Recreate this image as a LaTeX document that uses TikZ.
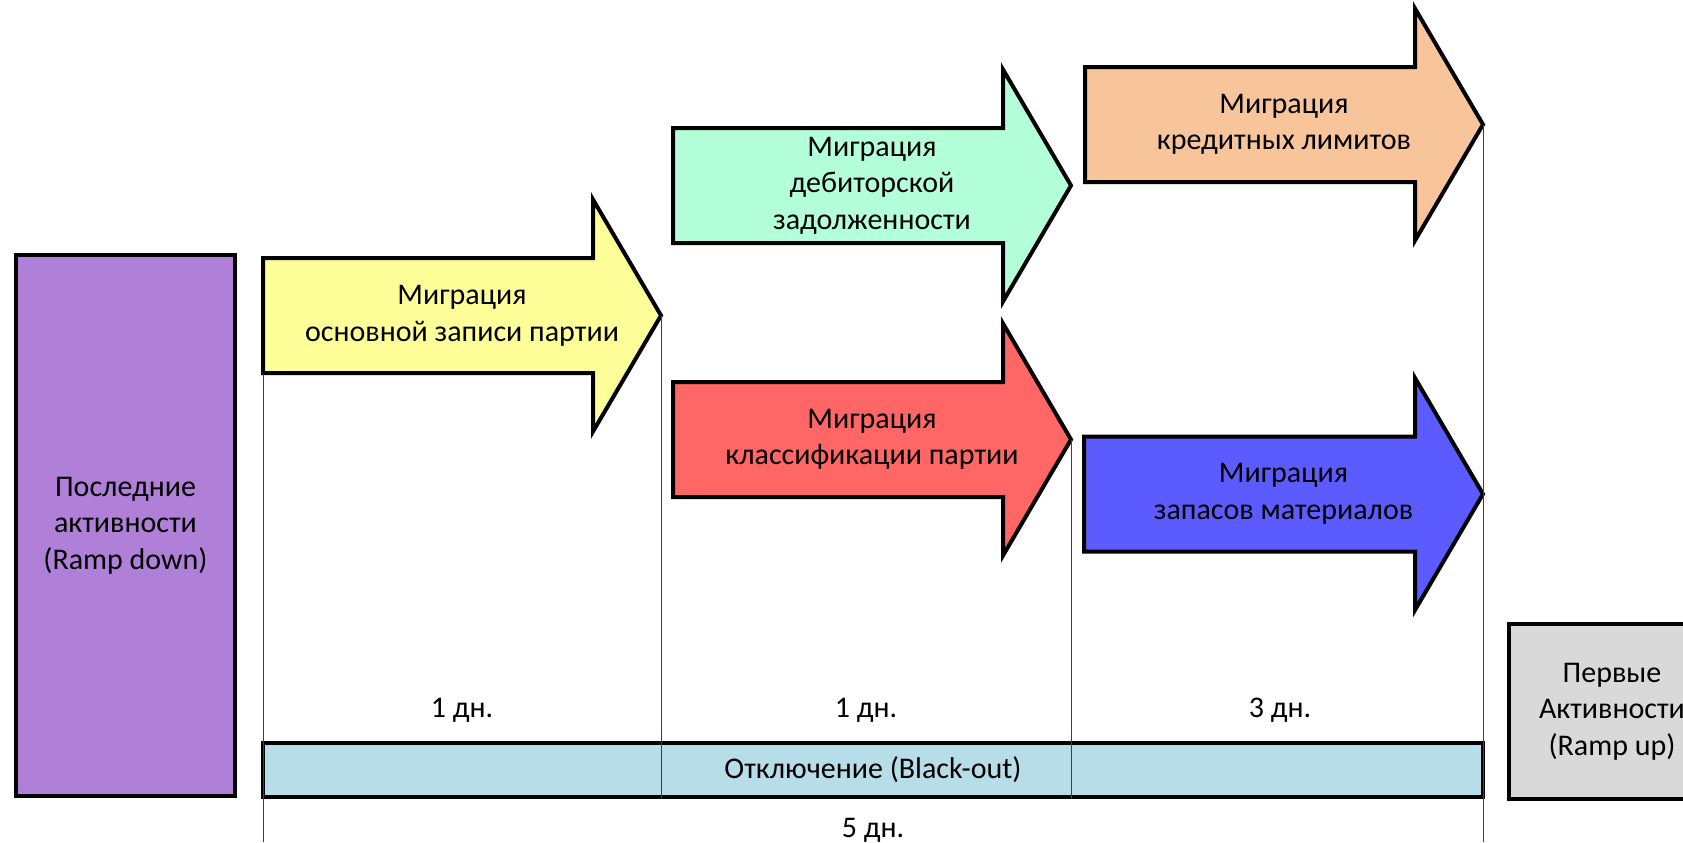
\documentclass[tikz,border=0pt]{standalone}
\usepackage{fontspec}
\setmainfont{Carlito}
\definecolor{cpurple}{HTML}{B07FD8}
\definecolor{cyellow}{HTML}{FFFF99}
\definecolor{cgreen}{HTML}{B3FFD9}
\definecolor{corange}{HTML}{F8C59B}
\definecolor{cred}{HTML}{FF6666}
\definecolor{cblue}{HTML}{5B5BFF}
\definecolor{cgray}{HTML}{D9D9D9}
\definecolor{clight}{HTML}{B7DEE8}
\newcommand\migarrow[6]{% #1 left x, #2 centre y, #3 tip x, #4 colour, #5 name, #6 text
  \draw[arrowbox, fill=#4] (#1,#2-57.5) -- (#3-68,#2-57.5) -- (#3-68,#2-116) -- (#3,#2)
     -- (#3-68,#2+116) -- (#3-68,#2+57.5) -- (#1,#2+57.5) -- cycle;
  \node[lbl] (#5) at ({(#1+#3)/2},#2) {#6};
  \coordinate (#5tip) at (#3,#2);
}
\begin{document}
\begin{tikzpicture}[x=0.5pt,y=-0.5pt,
  arrowbox/.style={draw=black, line width=2pt, line join=miter},
  lbl/.style={align=center, font=\fontsize{15}{18.3}\selectfont, inner sep=0pt},
  box/.style={draw=black, line width=2pt, align=center, font=\fontsize{15}{18.3}\selectfont, inner sep=0pt},
  thinline/.style={draw=black!75, line width=0.5pt}]
\useasboundingbox (0,0) rectangle (1683,842);
\clip (0,0) rectangle (1683,842);

% side boxes
\node[box, fill=cpurple, minimum width=109.5pt, minimum height=270.5pt] (rampdown) at (125.5,525.5)
  {Последние\\активности\\(Ramp down)};
\node[box, fill=cgray, minimum width=103pt, minimum height=87.5pt] (rampup) at (1612,711.5)
  {Первые\\Активности\\(Ramp up)};

% arrows
\migarrow{263}{315.5}{661}{cyellow}{bp}{Миграция\\основной записи партии}
\migarrow{673}{185.5}{1071}{cgreen}{ar}{Миграция\\дебиторской\\задолженности}
\migarrow{673}{439.5}{1071}{cred}{cls}{Миграция\\классификации партии}
\migarrow{1085}{124.5}{1483}{corange}{cl}{Миграция\\кредитных лимитов}
\migarrow{1084}{494}{1483}{cblue}{inv}{Миграция\\запасов материалов}

% black-out bar
\node[box, fill=clight, minimum width=610pt, minimum height=27pt] (blackout) at (873,770)
  {Отключение (Black-out)};

% time lines
\coordinate (ystart) at (263,374);
\coordinate (bottomL) at (263,842);
\coordinate (bottomR) at (1483,842);
\draw[thinline] (ystart) -- (bottomL);
\draw[thinline] (bptip) -- (bptip |- blackout.south);
\draw[thinline] (clstip) -- (clstip |- blackout.south);
\draw[thinline] (cltip) -- (bottomR);

% durations
\node[lbl] (d1) at (462,710) {1 дн.};
\node[lbl] (d2) at (866,710) {1 дн.};
\node[lbl] (d3) at (1280,710) {3 дн.};
\node[lbl] (d5) at (873,830) {5 дн.};
\end{tikzpicture}
\end{document}
